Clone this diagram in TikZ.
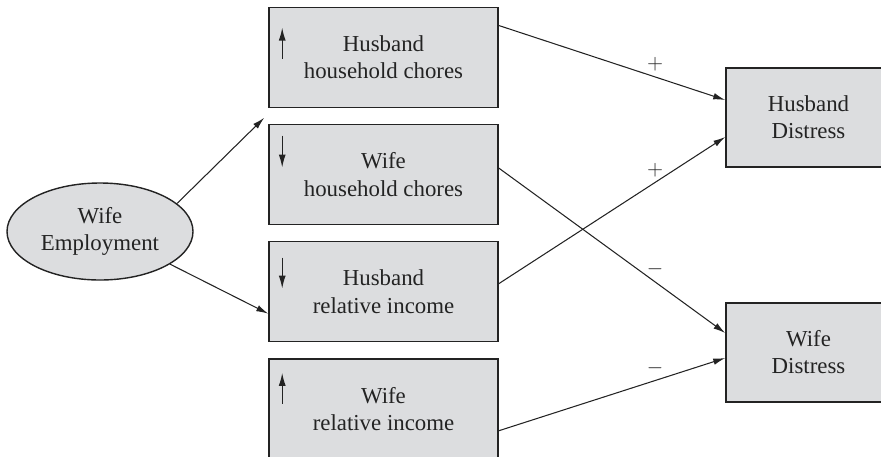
\documentclass[tikz,border=0pt]{standalone}
\usepackage{fontspec}
\setmainfont{Liberation Serif}
\usepackage{tikz}
\usetikzlibrary{arrows.meta,positioning,shapes.geometric}
\definecolor{boxgray}{RGB}{220,221,223}
\definecolor{inkgray}{RGB}{35,35,35}

\begin{document}
\begin{tikzpicture}[
    node distance=0.31cm and 1.0cm,
    block/.style={draw=inkgray,line width=0.9pt,fill=boxgray,minimum height=2.0cm,minimum width=4.58cm,align=center,font=\fontsize{13}{15.4}\selectfont,text=inkgray},
    outcome/.style={block,minimum width=3.3cm,minimum height=1.98cm},
    cause/.style={ellipse,draw=inkgray,line width=0.8pt,fill=boxgray,minimum width=3.72cm,minimum height=1.94cm,inner sep=0pt,align=center,font=\fontsize{13}{15.4}\selectfont,text=inkgray},
    arrow/.style={-{Latex[length=2.4mm,width=1.3mm]},line width=0.6pt,draw=inkgray},
    trend/.style={-{Latex[length=2.6mm,width=1.4mm]},line width=0.8pt,draw=inkgray},
    sign/.style={font=\fontsize{13}{15}\selectfont,text=inkgray,yshift=0.25cm}
]
\clip (0,0) rectangle (17.62,-9.12);
\node[cause] (emp) at (2.0,-4.63) {Wife\\Employment};
\node[block] (hchore) at (7.67,-1.15) {Husband\\household chores};
\node[block,below=of hchore] (wchore) {Wife\\household chores};
\node[block,below=of wchore] (hinc) {Husband\\relative income};
\node[block,below=of hinc] (winc) {Wife\\relative income};
\node[outcome] (hdist) at (16.17,-2.35) {Husband\\Distress};
\node[outcome] (wdist) at (16.17,-7.05) {Wife\\Distress};
% change in each mediator
\draw[trend] ([xshift=0.28cm,yshift=-0.02cm]hchore.west) -- ([xshift=0.28cm,yshift=0.6cm]hchore.west);
\draw[trend] ([xshift=0.28cm,yshift=0.78cm]wchore.west) -- ([xshift=0.28cm,yshift=0.14cm]wchore.west);
\draw[trend] ([xshift=0.28cm,yshift=0.68cm]hinc.west) -- ([xshift=0.28cm,yshift=0.06cm]hinc.west);
\draw[trend] ([xshift=0.28cm,yshift=0.1cm]winc.west) -- ([xshift=0.28cm,yshift=0.72cm]winc.west);
% paths
\draw[arrow] (emp.20) -- ([xshift=-0.08cm,yshift=0.12cm]wchore.north west);
\draw[arrow] (emp.-25) -- ([yshift=-0.44cm]hinc.west);
\draw[arrow] ([yshift=0.64cm]hchore.east) -- node[sign,pos=0.69]{$+$} ([yshift=0.35cm]hdist.west);
\draw[arrow] ([yshift=0.13cm]wchore.east) -- node[sign,pos=0.69]{$-$} ([yshift=0.39cm]wdist.west);
\draw[arrow] ([yshift=0.16cm]hinc.east) -- node[sign,pos=0.69]{$+$} ([yshift=-0.39cm]hdist.west);
\draw[arrow] ([yshift=-0.44cm]winc.east) -- node[sign,pos=0.69]{$-$} ([yshift=-0.11cm]wdist.west);
\end{tikzpicture}
\end{document}
